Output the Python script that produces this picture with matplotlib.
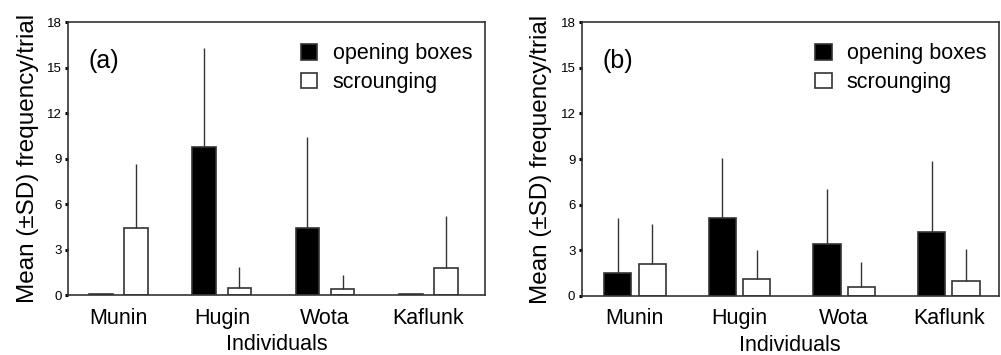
import numpy as np
import matplotlib
matplotlib.use('Agg')
import matplotlib.pyplot as plt

plt.rcParams['font.family'] = ['Liberation Sans', 'DejaVu Sans']

# Data
individuals = ['Munin', 'Hugin', 'Wota', 'Kaflunk']

a_open_mean = [0.05, 9.8, 4.4, 0.05]
a_open_sd = [0.0, 6.5, 6.0, 0.0]
a_scr_mean = [4.4, 0.45, 0.4, 1.75]
a_scr_sd = [4.25, 1.4, 0.95, 3.45]

b_open_mean = [1.5, 5.1, 3.4, 4.2]
b_open_sd = [3.6, 4.0, 3.6, 4.7]
b_scr_mean = [2.1, 1.1, 0.6, 1.0]
b_scr_sd = [2.6, 1.9, 1.6, 2.1]

yticks = [0, 3, 6, 9, 12, 15, 18]

EDGE = '#333333'


def draw_panel(ax, open_mean, open_sd, scr_mean, scr_sd, tag, width, offset, xlim):
    """Draws one panel: paired bars with upward SD lines."""
    x = np.arange(len(individuals))
    zeros = np.zeros(len(individuals))
    err_kw = dict(ecolor=EDGE, elinewidth=1.0, capsize=0)

    ax.bar(x - offset, open_mean, width, color='black', edgecolor=EDGE,
           linewidth=1.2, yerr=[zeros, open_sd], error_kw=err_kw,
           label='opening boxes', zorder=2)
    ax.bar(x + offset, scr_mean, width, color='white', edgecolor=EDGE,
           linewidth=1.2, yerr=[zeros, scr_sd], error_kw=err_kw,
           label='scrounging', zorder=2)

    ax.set_xlim(*xlim)
    ax.set_ylim(0, 18)
    ax.set_yticks(yticks)
    ax.set_xticks(x)
    ax.set_xticklabels(individuals, fontsize=15.5)
    ax.tick_params(axis='x', length=0, pad=9)
    ax.tick_params(axis='y', length=2.5, width=2.2, labelsize=9.5, pad=2,
                   colors='black')
    for sp in ax.spines.values():
        sp.set_color(EDGE)
        sp.set_linewidth(1.2)

    ax.set_xlabel('Individuals', fontsize=15.5, labelpad=4)
    ax.set_ylabel('Mean (\u00b1SD) frequency/trial', fontsize=17.5, labelpad=6)

    ax.text(0.05, 0.86, tag, transform=ax.transAxes, fontsize=18,
            ha='left', va='center')

    ax.legend(loc='upper right', bbox_to_anchor=(1.0, 0.97), frameon=False,
              fontsize=15.5, handlelength=0.75, handleheight=0.75,
              handletextpad=0.7, labelspacing=0.35, borderaxespad=0.2)


fig = plt.figure(figsize=(10.01, 3.55), dpi=100)
ax_a = fig.add_axes([0.068, 0.169, 0.4165, 0.768])
ax_b = fig.add_axes([0.581, 0.167, 0.417, 0.770])

draw_panel(ax_a, a_open_mean, a_open_sd, a_scr_mean, a_scr_sd, '(a)',
           0.23, 0.17, (-0.49, 3.55))
draw_panel(ax_b, b_open_mean, b_open_sd, b_scr_mean, b_scr_sd, '(b)',
           0.26, 0.165, (-0.51, 3.48))

fig.savefig('out.png', dpi=100)
